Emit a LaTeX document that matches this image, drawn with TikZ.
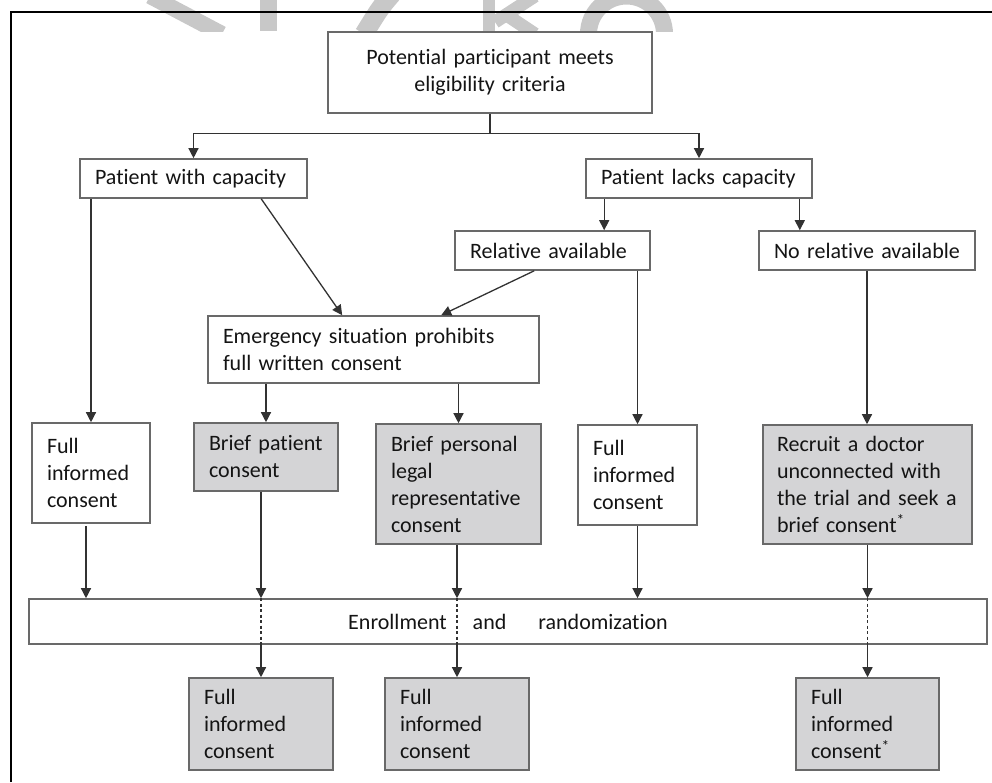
\documentclass[tikz,border=0pt]{standalone}
\usepackage{fontspec}
\setmainfont{Carlito}[Ligatures=NoCommon]
\usetikzlibrary{arrows.meta,calc}
\definecolor{bline}{RGB}{105,105,105}
\definecolor{aline}{RGB}{50,50,50}
\definecolor{gfill}{RGB}{212,212,214}
\definecolor{txt}{RGB}{20,20,20}
\definecolor{wm}{RGB}{200,200,200}
\begin{document}
\begin{tikzpicture}[x=1pt,y=-1pt,
  box/.style={draw=bline,line width=1.6pt,inner xsep=15pt,inner ysep=0pt,align=left,
    font=\fontsize{22}{27}\selectfont,text=txt,anchor=center},
  gbox/.style={box,fill=gfill},
  arr/.style={draw=aline,line width=1.3pt,-{Triangle[length=10pt,width=10pt]}},
  ln/.style={draw=aline,line width=1.3pt},
  dsh/.style={draw=aline,line width=1.3pt,dash pattern=on 3pt off 2.5pt},
  wmark/.style={draw=wm}]
\useasboundingbox (0,0) rectangle (992,782);
% watermark (cut off at the top)
\begin{scope}
\clip (0,0) rectangle (992,31);
\draw[wmark,line width=16pt] (150,-4) -- (222,34);
\fill[wm] (260,0) rectangle (277,31);
\draw[wmark,line width=19pt] (392,-6) .. controls (380,8) .. (364,34);
\draw[wmark,line width=12pt] (489,-2) -- (489,34);
\draw[wmark,line width=13pt] (495,22) -- (535,-4);
\draw[wmark,line width=13pt] (505,14) -- (535,34);
\draw[wmark,line width=17pt] (588.5,34) arc[start angle=180,end angle=360,radius=38];
\end{scope}
% frame
\draw[black,line width=2.2pt] (11,782) -- (11,12) -- (992,12);
% nodes
\node[box,align=center,text width=294pt,minimum height=81pt] (top) at (490,72.5) {Potential participant meets\\eligibility criteria};
\node[box,text width=197pt,minimum height=39pt] (pwc) at (193.5,178.5) {Patient with capacity};
\node[box,text width=196pt,minimum height=39pt] (plc) at (699,178.5) {Patient lacks capacity};
\node[box,text width=165pt,minimum height=39pt] (rel) at (552.5,250.5) {Relative available};
\node[box,text width=186pt,minimum height=39pt] (norel) at (867,250.5) {No relative available};
\node[box,text width=301pt,minimum height=67pt] (emerg) at (373.5,349.5) {Emergency situation prohibits\\full written consent};
\node[box,text width=88pt,minimum height=100pt] (fic1) at (91,473) {Full\\informed\\consent};
\node[gbox,text width=114pt,minimum height=68pt] (bpc) at (266,457) {Brief patient\\consent};
\node[gbox,text width=135pt,minimum height=120pt] (bplr) at (458.5,484) {Brief personal\\legal\\representative\\consent};
\node[box,text width=89pt,minimum height=100pt] (fic2) at (637.5,475) {Full\\informed\\consent};
\node[gbox,inner xsep=14pt,text width=181pt,minimum height=119pt] (rec) at (867.5,484.5) {Recruit a doctor\\unconnected with\\the trial and seek a\\brief consent\textsuperscript{*}};
\node[box,text width=928pt,minimum height=45pt,align=center] (enr) at (508,621.5) {Enrollment\hspace{26pt}and\hspace{32pt}randomization};
\node[gbox,text width=114pt,minimum height=92pt] (fic3) at (261,724) {Full\\informed\\consent};
\node[gbox,text width=114pt,minimum height=92pt] (fic4) at (457,724) {Full\\informed\\consent};
\node[gbox,text width=113pt,minimum height=92pt] (fic5) at (867.5,724) {Full\\informed\\consent\textsuperscript{*}};
% connectors
\coordinate (sp) at ($(top.south)+(0,20)$);
\draw[ln] (top.south) -- (sp);
\draw[arr] (sp) -| (pwc.north);
\draw[arr] (sp) -| (plc.north);
\draw[arr] (pwc.south -| fic1.north) -- (fic1.north);
\draw[arr] ([xshift=182pt]pwc.south west) -- ([xshift=135pt]emerg.north west);
\coordinate (p1) at ([xshift=19pt]plc.south west);
\coordinate (p2) at ([xshift=-13pt]plc.south east);
\draw[arr] (p1) -- (p1 |- rel.north);
\draw[arr] (p2) -- (p2 |- norel.north);
\draw[arr] ([xshift=80pt]rel.south west) -- ([xshift=234pt]emerg.north west);
\draw[arr] (rel.south -| fic2.north) -- (fic2.north);
\draw[arr] (norel.south) -- (norel.south |- rec.north);
\draw[arr] (emerg.south -| bpc.north) -- (bpc.north);
\draw[arr] (emerg.south -| bplr.north) -- (bplr.north);
\coordinate (c1) at ([xshift=-5pt,yshift=-2pt]fic1.south);
\draw[arr] (c1) -- (c1 |- enr.north);
\draw[arr] (fic2.south) -- (fic2.south |- enr.north);
\draw[arr] (bpc.south -| fic3.north) -- (enr.north -| fic3.north);
\draw[dsh] (enr.north -| fic3.north) -- (enr.south -| fic3.north);
\draw[arr] (enr.south -| fic3.north) -- (fic3.north);
\draw[arr] (bplr.south -| fic4.north) -- (enr.north -| fic4.north);
\draw[dsh] (enr.north -| fic4.north) -- (enr.south -| fic4.north);
\draw[arr] (enr.south -| fic4.north) -- (fic4.north);
\draw[arr] (rec.south -| fic5.north) -- (enr.north -| fic5.north);
\draw[dsh] (enr.north -| fic5.north) -- (enr.south -| fic5.north);
\draw[arr] (enr.south -| fic5.north) -- (fic5.north);
\end{tikzpicture}
\end{document}
